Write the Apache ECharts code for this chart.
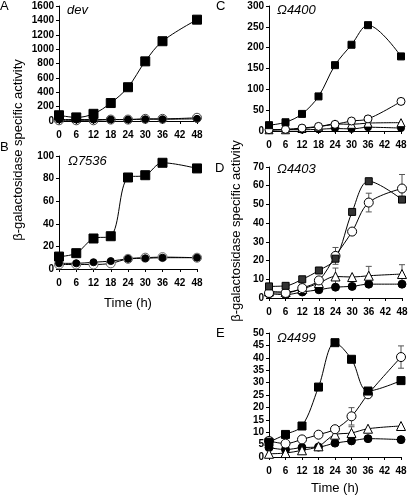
<!DOCTYPE html>
<html><head><meta charset="utf-8">
<script src="https://cdn.jsdelivr.net/npm/echarts@6/dist/echarts.min.js"></script>
<style>html,body{margin:0;padding:0;background:#fff}#c{width:409px;height:497px}</style>
</head><body><div id="c"></div>
<script>
const hours = [0, 6, 12, 18, 24, 30, 36, 48];

// Panel A (dev)
const aSquare = [80, 50, 100, 250, 470, 830, 1110, 1410];
const aOpen   = [10, 10, 10, 20, 20, 30, 30, 45];
const aFilled = [20, 20, 20, 20, 20, 25, 25, 30];

// Panel B (Ω7536)
const bSquare = [11, 14, 27, 29, 81, 83, 94, 89];
const bOpen   = [4, 4, 4, 5, 9, 10, 10.5, 10];
const bFilled = [5, 5, 6, 7, 9, 9.5, 10, 10];

// Panel C (Ω4400)
const cSquare   = [14, 21, 41, 83, 158, 207, 254, 179];
const cOpen     = [3, 4, 7, 11, 16, 24, 29, 71];
const cTriangle = [3, 3, 6, 10, 17, 16, 19, 20];
const cFilled   = [2, 3, 3, 4, 6, 5, 9, 7];

// Panel D (Ω4403)
const dSquare   = [6.2, 6.5, 10, 14.7, 21, 46, 62.4, 52.6];
const dOpen     = [2.7, 2.7, 5.3, 9.4, 22.5, 35.5, 51, 58.5];
const dTriangle = [3.5, 3.2, 4.8, 8, 11.5, 11.2, 11.9, 12.8];
const dFilled   = [2.3, 1.8, 3.2, 4.4, 5.8, 6.2, 7.4, 7.4];
const dOpenErr     = [0, 0, 0, 0, 4.5, 0, 5, 7.5];
const dTriangleErr = [0, 0, 0, 0, 4.5, 0, 5, 5];

// Panel E (Ω4499)
const eSquare   = [6, 9.1, 12.5, 28.2, 46.1, 39.4, 26.6, 30.8];
const eOpen     = [6.5, 5.4, 7.1, 9, 11.2, 16.4, 25.3, 40.3];
const eTriangle = [1.3, 1.6, 2.7, 4.3, 9, 9.7, 11.4, 12.5];
const eFilled   = [3.8, 3, 3.8, 4, 5.6, 6.5, 7.4, 7];
const eOpenErr     = [0, 0, 0, 0, 0, 3.5, 0, 4.5];
const eTriangleErr = [0, 0, 0, 0, 0, 2.5, 0, 0];

const yTitle = 'β-galactosidase specific activity';
const xTitle = 'Time (h)';

const FONT = 'Liberation Sans, Arial, sans-serif';
const grids = [
  {left: 59, top: 6, width: 138, height: 115},
  {left: 59, top: 156, width: 138, height: 113},
  {left: 269, top: 6, width: 132, height: 125},
  {left: 269, top: 167, width: 133, height: 131},
  {left: 269, top: 333, width: 132, height: 124}
];
const yMax = [1600, 100, 300, 70, 50];
const yInt = [200, 20, 50, 10, 5];

const pair = arr => arr.map((v, i) => [hours[i], v]);

function line(idx, data, symbol, fill, size, extra) {
  return Object.assign({
    type: 'line', xAxisIndex: idx, yAxisIndex: idx,
    data: pair(data), smooth: 0.35, symbol: symbol, symbolSize: size,
    lineStyle: {color: '#000', width: 1},
    itemStyle: {color: fill, borderColor: '#000', borderWidth: 1},
    emphasis: {disabled: true}, animation: false, z: 3
  }, extra || {});
}
function errBars(idx, means, errs) {
  const d = [];
  means.forEach((m, i) => { if (errs[i] > 0) d.push([hours[i], m - errs[i], m + errs[i]]); });
  return {
    type: 'custom', xAxisIndex: idx, yAxisIndex: idx, data: d, z: 2, animation: false,
    renderItem: (params, api) => {
      const x = api.value(0);
      const p0 = api.coord([x, api.value(1)]);
      const p1 = api.coord([x, api.value(2)]);
      const w = 3, st = {stroke: '#555', lineWidth: 1};
      return {type: 'group', children: [
        {type: 'line', shape: {x1: p0[0], y1: p0[1], x2: p1[0], y2: p1[1]}, style: st},
        {type: 'line', shape: {x1: p1[0] - w, y1: p1[1], x2: p1[0] + w, y2: p1[1]}, style: st},
        {type: 'line', shape: {x1: p0[0] - w, y1: p0[1], x2: p0[0] + w, y2: p0[1]}, style: st}
      ]};
    }
  };
}

const xAxes = grids.map((g, i) => ({
  type: 'value', gridIndex: i, min: 0, max: 48, interval: 6,
  axisLine: {show: true, lineStyle: {color: '#000', width: 1}},
  axisTick: {show: true, length: 3, lineStyle: {color: '#000'}},
  axisLabel: {color: '#000', fontFamily: FONT, fontWeight: 'bold', fontSize: 10, margin: 9},
  splitLine: {show: false}
}));
const yAxes = grids.map((g, i) => ({
  type: 'value', gridIndex: i, min: 0, max: yMax[i], interval: yInt[i],
  axisLine: {show: true, lineStyle: {color: '#000', width: 1}},
  axisTick: {show: true, length: 3, lineStyle: {color: '#000'}},
  axisLabel: {color: '#000', fontFamily: FONT, fontWeight: 'bold', fontSize: 10, margin: 5,
              formatter: v => String(v)},
  splitLine: {show: false}
}));

const series = [
  line(0, aFilled, 'circle', '#000', 7),
  line(0, aOpen, 'circle', '#fff', 9, {itemStyle: {color: 'rgba(255,255,255,0)', borderColor: '#444', borderWidth: 1}}),
  line(0, aSquare, 'rect', '#000', 9),
  line(1, bOpen, 'circle', '#fff', 9, {itemStyle: {color: '#fff', borderColor: '#666', borderWidth: 1}}),
  line(1, bFilled, 'circle', '#000', 7),
  line(1, bSquare, 'rect', '#000', 9),
  line(2, cFilled, 'circle', '#000', 7),
  line(2, cTriangle, 'triangle', '#fff', 8),
  line(2, cOpen, 'circle', '#fff', 8),
  line(2, cSquare, 'rect', '#000', 7),
  errBars(3, dOpen, dOpenErr),
  errBars(3, dTriangle, dTriangleErr),
  line(3, dFilled, 'circle', '#000', 8),
  line(3, dTriangle, 'triangle', '#fff', 9),
  line(3, dOpen, 'circle', '#fff', 9),
  line(3, dSquare, 'rect', '#333', 7),
  errBars(4, eOpen, eOpenErr),
  errBars(4, eTriangle, eTriangleErr),
  line(4, eFilled, 'circle', '#000', 8),
  line(4, eTriangle, 'triangle', '#fff', 9),
  line(4, eOpen, 'circle', '#fff', 9),
  line(4, eSquare, 'rect', '#000', 8)
];

const txt = (x, y, t, font) => ({
  type: 'text', x: x, y: y,
  style: {text: t, fill: '#000', font: font}
});
const LET = '13px ' + FONT, IT = 'italic 13px ' + FONT;
const graphic = [
  txt(0, 0, 'A', LET), txt(0, 141, 'B', LET),
  txt(216, 0, 'C', LET), txt(215, 162, 'D', LET), txt(216, 327, 'E', LET),
  txt(67, 4, 'dev', IT),
  txt(68, 155, 'Ω7536', IT),
  txt(277, 4, 'Ω4400', IT),
  txt(277, 163, 'Ω4403', IT),
  txt(277, 332, 'Ω4499', IT),
  {type: 'text', x: 18, y: 150, rotation: Math.PI / 2,
   style: {text: yTitle, fill: '#000', font: '13px ' + FONT, align: 'center', verticalAlign: 'middle'}},
  {type: 'text', x: 236, y: 231, rotation: Math.PI / 2,
   style: {text: yTitle, fill: '#000', font: '13px ' + FONT, align: 'center', verticalAlign: 'middle'}},
  {type: 'text', x: 128, y: 303, style: {text: xTitle, fill: '#000', font: '13px ' + FONT, align: 'center', verticalAlign: 'middle'}},
  {type: 'text', x: 335, y: 488, style: {text: xTitle, fill: '#000', font: '13px ' + FONT, align: 'center', verticalAlign: 'middle'}}
];

const chart = echarts.init(document.getElementById('c'), null, {renderer: 'canvas'});
chart.setOption({
  animation: false,
  backgroundColor: '#fff',
  grid: grids.map(g => Object.assign({containLabel: false, outerBoundsMode: 'none'}, g)),
  xAxis: xAxes, yAxis: yAxes, series: series, graphic: graphic
});
</script></body></html>
